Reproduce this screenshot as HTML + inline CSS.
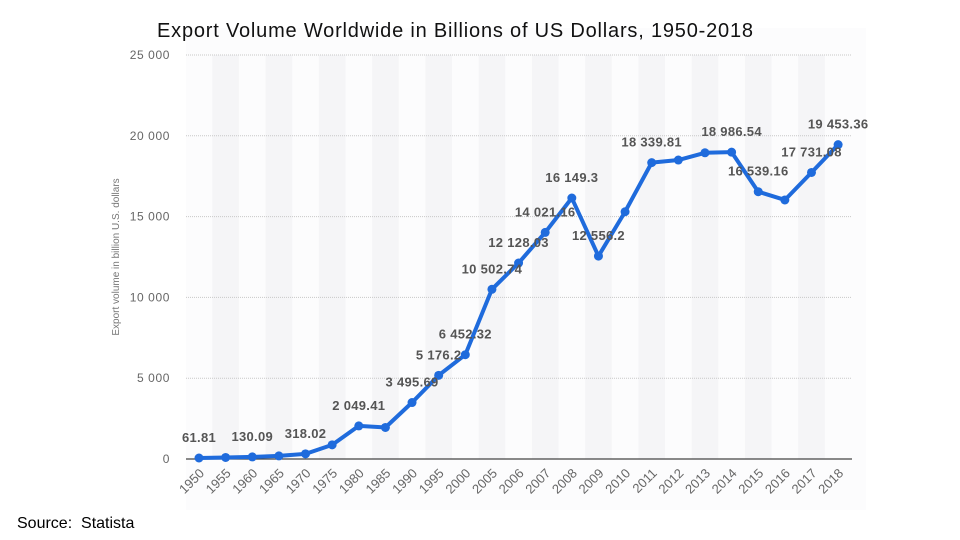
<!DOCTYPE html>
<html><head><meta charset="utf-8">
<style>
body{margin:0;width:960px;height:540px;background:#fff;overflow:hidden;font-family:"Liberation Sans",sans-serif;}
#title{position:absolute;left:157px;top:20px;font-size:20px;letter-spacing:0.8px;color:#111;z-index:2;}
#source{position:absolute;left:17px;top:515px;font-size:16px;color:#000;z-index:2;}
</style></head>
<body>
<svg id="chart" width="960" height="540" style="position:absolute;left:0;top:0;z-index:1"></svg>
<div id="title">Export Volume Worldwide in Billions of US Dollars, 1950-2018</div>
<div id="source">Source:&nbsp; Statista</div>
<script>
const categories=["1950","1955","1960","1965","1970","1975","1980","1985","1990","1995","2000","2005","2006","2007","2008","2009","2010","2011","2012","2013","2014","2015","2016","2017","2018"];
const values=[61.81,95,130.09,190,318.02,875,2049.41,1950,3495.69,5176.2,6452.32,10502.74,12128.03,14021.16,16149.3,12556.2,15300,18339.81,18500,18950,18986.54,16539.16,16030,17731.08,19453.36];
const labels=["61.81","","130.09","","318.02","","2 049.41","","3 495.69","5 176.2","6 452.32","10 502.74","12 128.03","14 021.16","16 149.3","12 556.2","","18 339.81","","","18 986.54","16 539.16","","17 731.08","19 453.36"];
const yTicks=[0,5000,10000,15000,20000,25000];
const yTickLabels=["0","5 000","10 000","15 000","20 000","25 000"];
const NS="http://www.w3.org/2000/svg";
const svg=document.getElementById('chart');
const x0=199,step=26.63,yBase=459,yTop=55,yMax=25000;
const xs=i=>x0+i*step;
const ys=v=>yBase-(v/yMax)*(yBase-yTop);
function mk(t,a){const e=document.createElementNS(NS,t);for(const k in a)e.setAttribute(k,a[k]);svg.appendChild(e);return e;}
let p=mk('rect',{x:186,y:28,width:680,height:482,fill:'#fcfcfd'});


categories.forEach((c,i)=>{if(i%2===1){const b=mk('rect',{x:xs(i)-step/2,y:yTop,width:step,height:yBase-yTop,fill:'#f5f5f7'});

}});
yTicks.forEach((t,i)=>{
 if(t>0){const g=mk('line',{x1:186,x2:852,y1:ys(t),y2:ys(t),stroke:'#c8c8c8','stroke-dasharray':'1,1'});
 
 }
 const l=mk('text',{x:170,y:ys(t)+4,'text-anchor':'end','font-size':'12',fill:'#666','letter-spacing':'0.6'});
 l.textContent=yTickLabels[i];
 
 
});
const ax=mk('line',{x1:186,x2:852,y1:yBase,y2:yBase,stroke:'#444','stroke-width':1.2});


const yt=mk('text',{x:0,y:0,transform:'translate(119,257) rotate(-90)','text-anchor':'middle','font-size':'10',fill:'#777'});
yt.textContent='Export volume in billion U.S. dollars';


categories.forEach((c,i)=>{const t=mk('text',{x:0,y:0,transform:`translate(${xs(i)+6},${474}) rotate(-45)`,'text-anchor':'end','font-size':'13',fill:'#666'});
t.textContent=c;

});
const pts=values.map((v,i)=>xs(i)+','+ys(v)).join(' ');
const ln=mk('polyline',{points:pts,fill:'none',stroke:'#1f6bdc','stroke-width':4,'stroke-linejoin':'round'});


values.forEach((v,i)=>{const c=mk('circle',{cx:xs(i),cy:ys(v),r:4.5,fill:'#1f6bdc'});

});
labels.forEach((l,i)=>{if(!l)return;const t=mk('text',{x:xs(i),y:ys(values[i])-16,'text-anchor':'middle','font-size':'13','font-weight':'bold',fill:'#555','letter-spacing':'0.3'});
t.textContent=l;

});
</script>
</body></html>
